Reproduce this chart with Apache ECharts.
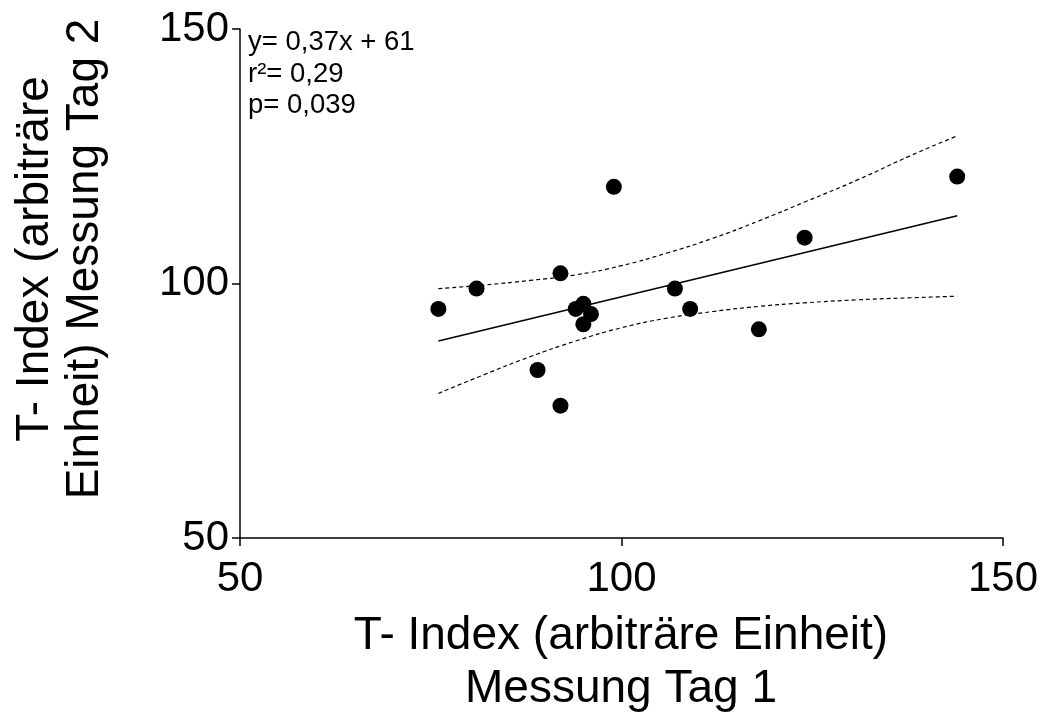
<!DOCTYPE html>
<html>
<head>
<meta charset="utf-8">
<script src="https://cdn.jsdelivr.net/npm/echarts@6/dist/echarts.min.js"></script>
<style>
html,body{margin:0;padding:0;background:#fff;}
#chart{width:1042px;height:715px;}
</style>
</head>
<body>
<div id="chart"></div>
<script>
// Measured points (Messung Tag 1, Messung Tag 2)
const tag1 = [76, 81, 92, 99, 94, 95, 96, 95, 89, 92, 107, 109, 118, 124, 144];
const tag2 = [95, 99, 102, 119, 95, 96, 94, 92, 83, 76, 99, 95, 91, 109, 121];

// Regression line endpoints
const fitX = [76, 144];
const fitY = [88.7, 113.3];

// 95% confidence band
const bandX = [76, 82, 88, 94, 100, 106, 112, 118, 124, 131, 138, 144];
const bandUpper = [99.0, 99.7, 100.6, 101.7, 103.5, 106.0, 108.9, 112.3, 116.0, 120.4, 125.2, 129.0];
const bandLower = [78.4, 82.1, 85.6, 88.7, 91.3, 93.2, 94.5, 95.5, 96.2, 96.8, 97.2, 97.5];

const xTicks = [50, 100, 150];
const yTicks = [50, 100, 150];

const annotation = ['y= 0,37x + 61', 'r²= 0,29', 'p= 0,039'];
const xTitle = ['T- Index (arbiträre Einheit)', 'Messung Tag 1'];
const yTitle = ['T- Index (arbiträre', 'Einheit) Messung Tag 2'];

const FONT = '"Liberation Sans", Arial, Helvetica, sans-serif';

const pts = tag1.map((x, i) => [x, tag2[i]]);
const fitPts = fitX.map((x, i) => [x, fitY[i]]);
const up = bandX.map((x, i) => [x, bandUpper[i]]);
const lo = bandX.map((x, i) => [x, bandLower[i]]);

const chart = echarts.init(document.getElementById('chart'), null, {renderer: 'canvas'});

const axisCommon = {
  type: 'value',
  interval: 50,
  axisLine: {show: true, lineStyle: {color: '#000', width: 1.5}},
  axisTick: {show: true, inside: false, length: 8, lineStyle: {color: '#000', width: 1.5}},
  splitLine: {show: false},
  axisLabel: {color: '#000', fontFamily: FONT, fontSize: 42}
};

chart.setOption({
  animation: false,
  backgroundColor: '#fff',
  grid: {left: 240, right: 39, top: 29, bottom: 177, containLabel: false},
  xAxis: Object.assign({}, axisCommon, {
    min: xTicks[0], max: xTicks[xTicks.length - 1],
    axisLabel: Object.assign({}, axisCommon.axisLabel, {margin: 20})
  }),
  yAxis: Object.assign({}, axisCommon, {
    min: yTicks[0], max: yTicks[yTicks.length - 1],
    axisLabel: Object.assign({}, axisCommon.axisLabel, {margin: 11})
  }),
  series: [
    {
      type: 'line', data: up, showSymbol: false, smooth: true, silent: true,
      lineStyle: {color: '#000', width: 1.2, type: [4, 3]}, z: 2
    },
    {
      type: 'line', data: lo, showSymbol: false, smooth: true, silent: true,
      lineStyle: {color: '#000', width: 1.2, type: [4, 3]}, z: 2
    },
    {
      type: 'line', data: fitPts, showSymbol: false, silent: true,
      lineStyle: {color: '#000', width: 1.5}, z: 3
    },
    {
      type: 'scatter', data: pts, symbol: 'circle', symbolSize: 16,
      itemStyle: {color: '#000', opacity: 1}, z: 4
    }
  ],
  graphic: [
    {
      type: 'text', left: 248, top: 27,
      style: {text: annotation.join('\n'), font: '27.5px ' + FONT, fill: '#000', lineHeight: 31.5}
    },
    {
      type: 'text', x: 621, y: 663,
      style: {text: xTitle.join('\n'), font: '46px ' + FONT, fill: '#000',
        textAlign: 'center', textVerticalAlign: 'middle', lineHeight: 53}
    },
    {
      type: 'text', x: 60, y: 259, rotation: Math.PI / 2,
      style: {text: yTitle.join('\n'), font: '46px ' + FONT, fill: '#000',
        textAlign: 'center', textVerticalAlign: 'middle', lineHeight: 50}
    }
  ]
});
</script>
</body>
</html>
